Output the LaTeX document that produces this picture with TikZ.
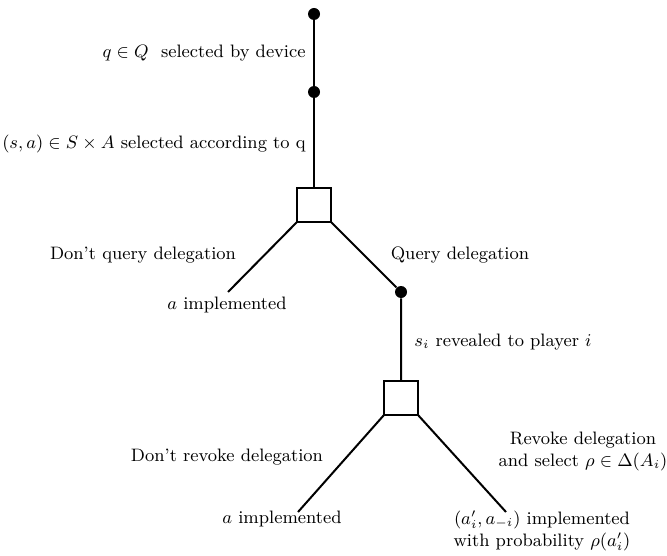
\documentclass[tikz,border=0pt]{standalone}
\usepackage{amsmath}
\tikzset{
  chance/.style={circle, fill=black, inner sep=0pt, minimum size=6pt},
  decision/.style={draw, line width=1pt, fill=white, inner sep=0pt, outer sep=0pt, minimum size=17pt},
  branch/.style={line width=1pt},
  lbl/.style={inner sep=0pt, font=\fontsize{9}{11}\selectfont}
}

\begin{document}
\begin{tikzpicture}[x=0.5pt, y=-0.5pt]
            \useasboundingbox (0,0) rectangle (667,555);
            % nodes of the tree
            \node[chance]   (dev)    at (314, 14) {};
            \node[chance]   (draw)   at (314, 92) {};
            \node[decision] (query)  at (314,205) {};
            \coordinate     (noq)    at (228,292);
            \node[chance]   (reveal) at (401,292) {};
            \node[decision] (revoke) at (401,398) {};
            \coordinate     (norev)  at (298,512);
            \coordinate     (rev)    at (506,512);
            % branches
            \draw[branch] (dev) -- (draw) -- (query);
            \draw[branch] (query.south west) -- (noq);
            \draw[branch] (query.south east) -- (reveal) -- (revoke);
            \draw[branch] (revoke.south west) -- (norev);
            \draw[branch] (revoke.south east) -- (rev);
            % labels
            \node[lbl, anchor=east] at (306, 53) {$q\in Q$\ \ selected by device};
            \node[lbl, anchor=east] at (306,144) {$(s,a)\in S\times A$ selected according to q};
            \node[lbl]              at (143,255) {Don't query delegation};
            \node[lbl]              at (460,255) {Query delegation};
            \node[lbl]              at (227,305) {$a$ implemented};
            \node[lbl, anchor=west] at (414,342) {$s_i$ revealed to player $i$};
            \node[lbl]              at (227,457) {Don't revoke delegation};
            \node[lbl, align=center] at (583,451) {Revoke delegation\\ and select $\rho\in\Delta(A_i)$};
            \node[lbl]              at (282,519) {$a$ implemented};
            \node[lbl, align=center] at (542,531) {$(a_i',a_{-i})$ implemented\\ with probability $\rho(a_i')$};
        \end{tikzpicture}
\end{document}
